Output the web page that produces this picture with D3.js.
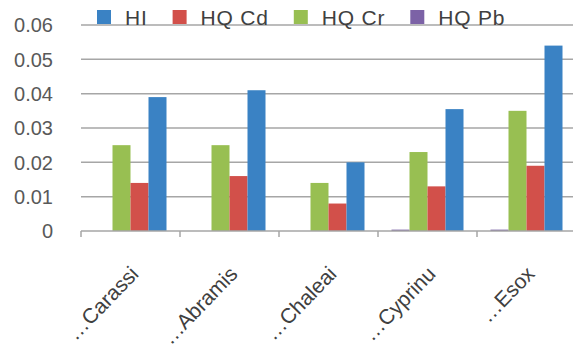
<!DOCTYPE html>
<html><head><meta charset="utf-8">
<script src="https://cdn.jsdelivr.net/npm/d3@7"></script>
<style>body{margin:0;background:#fff}svg{display:block}</style>
</head><body>
<svg id="c" width="573" height="360"></svg>
<script>
const categories = ["…Carassi", "…Abramis", "…Chaleai", "…Cyprinu", "…Esox"];
const seriesNames = ["HI", "HQ Cd", "HQ Cr", "HQ Pb"];
const HI   = [0.039, 0.041, 0.020, 0.0355, 0.054];
const HQCd = [0.014, 0.016, 0.008, 0.013, 0.019];
const HQCr = [0.025, 0.025, 0.014, 0.023, 0.035];
const HQPb = [0.0000, 0.0000, 0.0000, 0.0004, 0.0004];
const yTicks = [0, 0.01, 0.02, 0.03, 0.04, 0.05, 0.06];
const colors = {"HI":"#3a82c4","HQ Cd":"#d2504a","HQ Cr":"#98bf52","HQ Pb":"#7c62a6"};
const seriesData = {"HI":HI,"HQ Cd":HQCd,"HQ Cr":HQCr,"HQ Pb":HQPb};
const barOrder = ["HQ Pb","HQ Cr","HQ Cd","HI"];

const svg = d3.select("#c");
const font = "'Liberation Sans', Arial, sans-serif";
const m = {left:81, right:576, top:25, bottom:231};

const x = d3.scaleBand().domain(categories).range([m.left, m.right]).paddingInner(0).paddingOuter(0);
const xs = d3.scaleBand().domain(barOrder).range([0, x.bandwidth()]).paddingInner(0).paddingOuter(0.75);
const y = d3.scaleLinear().domain([0, 0.06]).range([m.bottom, m.top]);

// gridlines
svg.append("g").selectAll("line").data(yTicks.filter(d=>d>0)).join("line")
  .attr("x1", m.left).attr("x2", 573).attr("y1", d=>y(d)).attr("y2", d=>y(d))
  .attr("stroke", "#a6a6a6").attr("stroke-width", 1.5);

// y labels
svg.append("g").selectAll("text").data(yTicks).join("text")
  .attr("x", 53).attr("y", d=>y(d)).attr("dy", "0.36em")
  .attr("text-anchor", "end").attr("font-family", font).attr("font-size", 20)
  .attr("fill", "#595959")
  .text(d => d === 0 ? "0" : d3.format(".2f")(d));

// bars
const groups = svg.append("g").selectAll("g").data(categories).join("g")
  .attr("transform", d => `translate(${x(d)},0)`);
groups.selectAll("rect").data((c,i) => barOrder.map(s => ({s, v: seriesData[s][i]}))).join("rect")
  .attr("x", d => xs(d.s)).attr("width", xs.bandwidth())
  .attr("y", d => y(d.v)).attr("height", d => y(0) - y(d.v))
  .attr("fill", d => colors[d.s]);

// x axis
const xAxis = svg.append("g").attr("transform", `translate(0,${m.bottom})`);
xAxis.append("line").attr("x1", m.left).attr("x2", 573).attr("stroke", "#a6a6a6").attr("stroke-width", 1.5);
xAxis.selectAll("line.t").data(categories).join("line").attr("class","t")
  .attr("x1", d=>x(d)).attr("x2", d=>x(d)).attr("y1", 0).attr("y2", 6)
  .attr("stroke", "#a6a6a6").attr("stroke-width", 1.5);

svg.append("g").selectAll("text").data(categories).join("text")
  .attr("transform", d => `translate(${x(d) + x.bandwidth()/2 + 4},${m.bottom + 39}) rotate(-46)`)
  .attr("text-anchor", "end").attr("dy", "0.35em")
  .attr("font-family", font).attr("font-size", 21).attr("fill", "#404040")
  .text(d => d);

// legend
const leg = svg.append("g");
let lx = 97;
seriesNames.forEach(s => {
  leg.append("rect").attr("x", lx).attr("y", 10).attr("width", 14).attr("height", 14).attr("fill", colors[s]);
  const t = leg.append("text").attr("x", lx + 28).attr("y", 25)
    .attr("font-family", font).attr("font-size", 21).attr("letter-spacing", 0.8)
    .attr("fill", "#404040").text(s);
  lx += 28 + t.node().getComputedTextLength() + 25;
});
</script>
</body></html>
